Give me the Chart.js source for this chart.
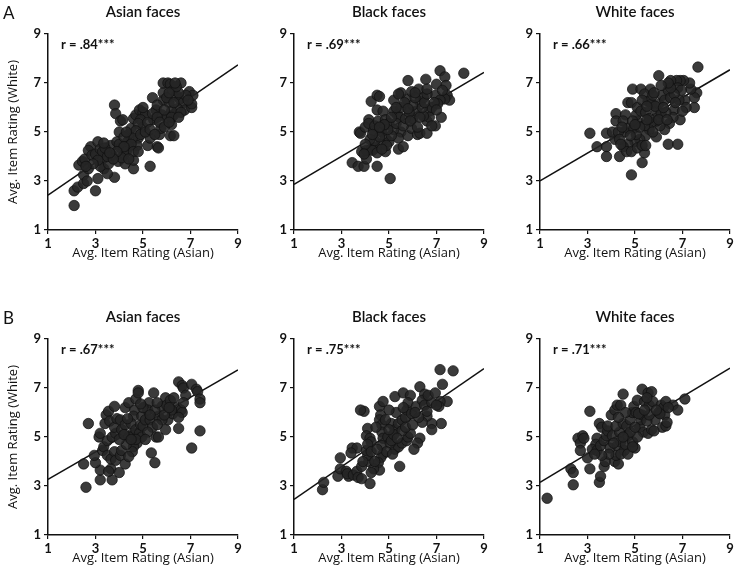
<!DOCTYPE html>
<html>
<head>
<meta charset="utf-8">
<script src="https://cdn.jsdelivr.net/npm/chart.js@4"></script>
<style>
  html, body { margin: 0; padding: 0; background: #fff; }
  body { width: 737px; height: 573px; position: relative; overflow: hidden; font-family: Lato, sans-serif; }
  canvas { position: absolute; }
  .letter { position: absolute; left: 3px; font-size: 17px; color: #111; z-index: 2; }
</style>
</head>
<body>
<div class="letter" style="top:2px">A</div>
<div class="letter" style="top:307px">B</div>
<canvas id="a1" width="246" height="264" style="left:0;top:0"></canvas>
<canvas id="a2" width="246" height="264" style="left:246px;top:0"></canvas>
<canvas id="a3" width="246" height="264" style="left:492px;top:0"></canvas>
<canvas id="b1" width="246" height="264" style="left:0;top:305px"></canvas>
<canvas id="b2" width="246" height="264" style="left:246px;top:305px"></canvas>
<canvas id="b3" width="246" height="264" style="left:492px;top:305px"></canvas>
<script>
// ---- data: [Asian rating, White rating] per item ----

const faceTitles = ['Asian faces', 'Black faces', 'White faces'];
const tickValues = [1, 3, 5, 7, 9];
const rLabels = ['.84', '.69', '.66', '.67', '.75', '.71'];

// regression lines: rating at x = 1 and x = 9
const fitA = [[2.42, 7.74], [2.86, 7.43], [3.01, 7.54]];
const fitB = [[3.27, 7.74], [2.45, 7.79], [3.15, 7.81]];

const asianA = [[2.1,2.0],[2.1,2.6],[2.25,2.75],[2.5,2.9],[2.5,3.25],[2.65,3.0],[3.0,2.6],[3.1,3.1],[3.8,3.15],[2.3,3.65],
  [2.45,3.8],[2.55,3.9],[2.7,3.5],[2.8,4.4],[2.7,4.25],[3.1,4.6],[2.85,4.05],[3.0,4.1],[3.2,4.3],[3.3,3.9],
  [3.35,3.5],[3.5,3.3],[3.2,3.6],[3.55,3.7],[3.7,4.05],[3.65,4.45],[3.45,4.2],[3.3,4.2],[3.5,4.0],[3.8,6.1],
  [3.85,5.75],[4.05,5.45],[4.15,5.5],[4.0,5.0],[3.9,4.6],[4.05,4.35],[4.2,4.05],[3.95,3.8],[4.25,3.7],[4.6,3.5],
  [4.6,3.85],[4.35,4.6],[4.4,4.9],[4.5,5.15],[4.6,5.55],[4.7,5.7],[4.85,5.9],[5.0,5.8],[4.8,4.75],[4.75,4.45],
  [5.1,5.7],[5.2,4.45],[5.3,3.6],[5.3,4.75],[5.4,6.4],[5.55,5.9],[5.6,4.4],[5.65,4.35],[5.45,5.5],[5.7,4.9],
  [5.75,5.15],[5.8,5.7],[5.85,6.3],[5.85,6.6],[5.85,7.0],[6.05,7.0],[6.15,6.95],[6.2,5.3],[6.15,4.85],[6.3,4.85],
  [6.4,6.5],[6.6,7.0],[6.25,6.7],[6.55,6.35],[6.7,6.2],[6.75,5.9],[6.95,6.65],[7.05,6.0],[7.05,6.15],[7.1,6.5],
  [6.8,6.5],[6.3,5.7],[6.45,5.95],[6.1,6.2],[6.2,5.85],[6.0,5.6],[6.2,5.6],[4.9,5.5],[5.0,5.2],[4.8,5.35],
  [4.7,5.05],[4.55,4.75],[4.4,4.4],[4.3,4.2],[4.1,3.95],[3.4,4.35],[3.35,4.55],[4.0,4.5],[4.2,4.8],[4.3,5.0],
  [4.5,4.5],[4.6,4.2],[4.9,4.9],[5.1,5.0],[5.2,5.4],[5.3,5.1],[5.4,5.75],[5.6,5.6],[5.6,6.1],[5.7,5.4],
  [5.9,5.9],[6.0,6.4],[6.3,6.2],[6.5,6.6],[6.6,5.8],[6.9,6.3],[5.0,6.0],[4.2,4.4],[3.9,4.2],[3.75,3.9],
  [3.6,4.15],[3.1,3.85],[2.9,3.7],[2.6,3.6],[4.4,3.9],[4.8,4.2],[5.5,4.9],[5.9,5.2],[6.1,5.4],[6.5,5.6],
  [6.4,6.85],[6.35,7.0],[6.1,6.6]];

const blackA = [[3.45,3.75],[3.7,3.6],[3.95,3.6],[4.05,3.9],[4.5,3.6],[5.05,3.1],[3.85,4.2],[4.05,4.25],[4.25,4.3],[3.75,5.0],
  [3.8,4.95],[4.25,6.25],[4.5,6.5],[4.6,6.45],[4.15,5.5],[4.5,5.9],[4.75,5.85],[4.0,5.2],[4.15,5.35],[4.35,5.05],
  [4.4,5.25],[4.55,5.45],[4.85,5.5],[5.0,5.35],[4.7,5.0],[4.85,4.75],[5.0,4.6],[4.65,4.5],[4.45,4.35],[4.3,4.25],
  [4.85,4.2],[4.4,4.65],[4.9,4.45],[5.2,5.85],[5.35,5.7],[5.45,5.6],[5.5,6.0],[5.75,6.35],[5.8,7.1],[5.5,6.6],
  [5.95,6.65],[5.2,6.3],[5.5,5.0],[5.4,4.75],[5.4,4.3],[5.6,4.4],[5.8,4.85],[5.95,5.15],[6.0,5.55],[6.15,5.85],
  [6.2,4.9],[6.3,4.95],[6.25,6.75],[6.3,6.25],[6.45,6.4],[6.6,5.45],[6.7,5.85],[6.6,4.95],[6.55,7.15],[6.8,6.0],
  [6.95,6.5],[7.0,6.95],[7.15,7.5],[7.35,7.25],[7.4,6.9],[7.45,6.5],[7.55,6.3],[7.35,6.35],[7.15,6.3],[7.05,6.15],
  [7.2,5.6],[6.95,5.25],[8.15,7.4],[6.7,5.6],[6.8,5.25],[6.45,5.65],[4.6,4.8],[4.2,4.7],[4.5,4.15],[5.2,5.1],
  [5.3,5.35],[5.6,5.25],[5.7,5.55],[5.85,5.8],[6.0,6.1],[6.1,6.4],[6.3,5.6],[6.4,6.0],[6.5,6.2],[6.6,6.55],
  [5.1,4.85],[4.95,5.1],[5.65,6.2],[5.9,5.45],[6.2,5.2],[6.9,6.2],[7.0,5.9],[5.3,6.0],[5.1,5.6],[4.8,5.3],
  [4.3,4.9],[4.0,4.5],[4.6,5.2],[6.1,6.6],[5.4,6.55],[6.6,6.75],[7.25,6.7],[4.7,4.3],[3.95,4.1],[5.8,5.95]];

const whiteA = [[3.1,4.95],[3.4,4.4],[3.8,4.95],[3.8,4.4],[3.8,4.0],[4.35,4.0],[4.2,5.75],[4.2,5.45],[4.15,4.7],[4.05,5.0],
  [4.85,3.25],[5.3,3.75],[5.4,4.15],[5.9,4.8],[6.4,4.5],[6.8,4.5],[6.9,5.5],[4.9,6.75],[5.25,6.75],[5.65,6.75],
  [6.0,7.3],[7.65,7.65],[7.5,6.0],[7.6,6.6],[7.5,6.4],[7.35,6.75],[7.3,7.0],[7.05,7.1],[6.9,7.1],[6.75,7.1],
  [6.5,7.1],[4.7,6.2],[4.85,6.2],[4.6,5.7],[4.5,5.45],[4.55,5.0],[4.7,5.15],[4.95,5.15],[5.1,5.45],[5.05,5.7],
  [5.1,6.0],[5.25,5.85],[5.45,5.8],[5.4,6.55],[5.55,6.25],[5.7,6.15],[5.75,6.5],[5.9,5.85],[6.0,6.15],[6.1,5.75],
  [6.15,6.5],[6.25,6.3],[6.4,6.7],[6.5,6.4],[6.65,5.9],[6.6,5.6],[6.45,5.35],[6.25,5.1],[6.05,5.25],[5.9,5.45],
  [5.7,5.4],[5.6,5.1],[5.4,5.25],[5.45,4.85],[5.2,4.7],[5.0,4.6],[4.7,4.5],[4.5,4.4],[4.65,4.2],[4.85,4.2],
  [5.1,4.35],[5.3,4.45],[5.45,4.45],[5.05,4.9],[4.9,5.45],[4.3,5.0],[4.35,4.7],[4.4,4.5],[6.8,6.8],[6.95,6.7],
  [7.1,6.3],[7.15,6.0],[7.0,5.85],[6.85,6.3],[6.65,6.55],[6.5,6.8],[6.4,7.0],[5.3,6.3],[5.6,5.55],[5.85,6.05],
  [6.3,5.8],[6.0,5.5],[5.2,5.2],[4.8,4.85],[5.75,5.0],[6.2,6.0],[6.7,6.2],[5.5,6.05],[6.35,5.5],[4.45,5.2],
  [5.0,5.3],[5.8,6.6],[6.1,6.9],[5.5,5.5]];

const asianB = [[2.6,2.95],[2.5,3.9],[2.7,5.55],[3.2,3.25],[3.2,3.65],[3.7,3.25],[3.65,3.7],[3.55,3.6],[4.0,3.55],[3.0,3.95],
  [2.95,4.25],[3.15,5.0],[3.2,5.15],[3.4,5.55],[3.45,5.9],[3.55,6.05],[3.8,6.25],[3.6,5.65],[3.3,4.45],[3.35,4.6],
  [3.5,4.25],[3.65,4.1],[3.8,4.4],[3.85,4.05],[4.05,4.25],[4.1,4.45],[4.25,3.9],[3.5,4.85],[3.7,5.0],[3.85,5.15],
  [3.8,5.4],[3.9,5.75],[4.05,5.7],[4.1,5.3],[4.25,5.5],[4.25,6.2],[4.4,6.4],[4.7,6.55],[4.8,6.9],[4.8,6.8],
  [4.65,6.1],[4.6,5.85],[4.5,5.55],[4.55,5.15],[4.7,5.3],[4.85,5.15],[4.9,5.5],[4.95,5.85],[5.0,5.45],[5.1,5.7],
  [4.95,5.0],[4.75,4.75],[4.6,4.6],[4.55,4.4],[4.4,4.2],[4.7,4.9],[5.35,4.35],[5.5,3.95],[5.45,6.8],[5.25,6.4],
  [5.2,6.1],[5.3,5.7],[5.4,5.4],[5.55,5.0],[5.65,5.0],[5.65,5.85],[5.8,6.25],[5.95,6.6],[6.0,6.3],[6.15,6.5],
  [6.3,6.6],[5.95,5.3],[6.05,5.7],[6.25,5.95],[6.45,6.2],[6.6,6.1],[6.65,6.0],[6.5,5.8],[6.5,5.35],[6.5,7.25],
  [6.65,7.1],[6.7,7.0],[7.05,7.15],[7.25,6.95],[7.3,6.85],[7.4,6.55],[7.4,6.4],[7.4,5.25],[7.05,4.55],[6.8,6.7],
  [6.7,6.4],[5.8,5.7],[5.6,5.5],[5.5,6.1],[5.2,5.2],[5.1,4.9],[4.4,5.0],[4.3,4.7],[4.0,4.9],[4.2,5.1],
  [5.0,6.2],[5.6,6.4],[6.2,6.1],[5.9,5.9],[6.1,6.2],[4.5,4.9],[4.35,5.75],[5.3,5.9],[4.9,6.35]];

const blackB = [[2.2,2.85],[2.25,3.15],[2.85,3.4],[2.95,4.15],[2.95,3.7],[3.2,3.6],[3.3,3.4],[3.25,3.5],[3.45,4.55],[3.65,4.55],
  [3.4,4.35],[3.5,3.45],[3.65,3.6],[3.7,3.35],[3.85,3.3],[4.2,3.1],[3.85,3.8],[4.15,4.0],[4.1,4.25],[4.05,4.45],
  [3.95,6.05],[3.8,6.1],[4.6,6.25],[4.75,6.45],[4.65,5.9],[4.6,5.7],[4.7,5.5],[4.7,5.2],[4.75,4.95],[4.7,4.65],
  [4.75,4.3],[4.65,4.15],[4.55,3.95],[4.6,3.65],[4.35,3.7],[4.25,3.55],[4.1,5.35],[4.05,5.05],[4.2,4.95],[4.25,4.8],
  [4.1,4.7],[4.25,4.4],[5.25,6.65],[5.6,6.8],[5.9,6.7],[6.3,7.05],[6.5,6.75],[7.15,7.75],[7.7,7.7],[7.25,7.15],
  [7.45,6.45],[7.15,6.45],[7.1,6.25],[7.2,5.55],[6.8,5.55],[6.8,5.3],[6.6,5.85],[6.3,4.95],[6.2,4.75],[6.05,4.5],
  [5.45,3.8],[5.25,4.5],[5.4,4.6],[5.55,4.75],[5.75,4.85],[5.8,5.0],[5.9,5.15],[5.1,5.55],[5.25,5.3],[5.4,5.55],
  [5.55,5.7],[5.7,5.8],[5.75,6.1],[5.95,5.95],[5.8,6.4],[6.15,6.25],[6.4,6.5],[6.5,6.3],[6.8,6.4],[6.65,6.7],
  [6.95,6.8],[4.95,5.0],[5.05,4.75],[5.1,4.85],[5.2,5.1],[6.4,5.6],[6.25,5.8],[5.55,5.25],[5.7,5.4],[4.9,4.4],
  [4.85,5.7],[5.3,6.0],[5.0,5.3],[5.15,4.3],[5.0,6.1],[6.0,5.5],[6.1,6.0],[5.6,6.2],[4.45,5.4],[4.5,4.5],
  [5.35,4.95],[6.6,6.05],[7.0,6.3],[4.4,4.0],[3.9,4.0]];

const whiteB = [[1.3,2.5],[2.4,3.05],[2.3,3.7],[2.4,3.55],[2.6,4.95],[2.7,4.75],[2.8,5.05],[2.85,4.95],[2.7,4.45],[3.0,4.15],
  [3.1,3.7],[3.1,6.05],[3.5,3.15],[3.55,3.4],[3.7,3.8],[3.75,4.0],[3.5,5.55],[3.6,5.4],[3.4,4.95],[3.35,4.7],
  [3.2,4.5],[3.4,4.45],[3.55,4.65],[3.7,4.85],[3.8,5.05],[3.85,5.25],[3.85,5.45],[4.15,4.0],[4.3,3.9],[4.0,5.9],
  [4.15,6.1],[4.25,6.3],[4.4,6.3],[4.5,6.75],[4.2,4.25],[3.95,4.55],[4.25,4.65],[4.4,4.8],[4.55,4.45],[4.6,4.7],
  [4.7,5.05],[4.05,5.05],[4.35,5.2],[4.2,5.45],[4.5,5.55],[4.65,5.45],[4.8,5.7],[4.9,6.0],[5.0,4.55],[4.95,6.25],
  [5.05,6.0],[5.1,6.5],[5.2,5.4],[5.25,5.7],[5.3,6.95],[5.55,6.8],[5.7,6.85],[5.4,6.45],[5.6,6.3],[5.75,6.45],
  [5.35,5.2],[5.55,5.15],[5.7,5.3],[5.85,5.7],[6.0,6.0],[6.1,6.3],[6.2,6.2],[6.3,6.45],[6.25,5.9],[6.05,5.95],
  [6.15,5.4],[6.3,5.45],[6.35,5.6],[5.8,5.25],[6.6,6.3],[6.8,6.1],[7.1,6.55],[4.4,4.3],[4.7,4.3],[4.9,4.8],
  [5.1,5.0],[4.8,5.2],[5.3,5.9],[5.5,5.65],[5.6,5.9],[5.15,5.95],[4.6,6.0],[4.3,5.8],[3.9,4.3],[3.6,4.25],
  [5.4,6.1],[5.0,5.4],[4.1,4.75],[3.3,4.3],[4.5,5.0],[5.5,6.6],[5.9,6.1],[4.9,4.6],[6.4,6.2]];

// ---- drawing ----

Chart.defaults.font.family = 'Lato, "Open Sans", sans-serif';
Chart.defaults.color = '#111';

// panel title centred over the plot area, plus "r = .84***" in its top-left corner
const panelText = {
  id: 'panelText',
  afterDatasetsDraw(chart, args, opts) {
    const { ctx, chartArea } = chart;
    ctx.save();
    ctx.fillStyle = '#111';
    ctx.textBaseline = 'middle';
    ctx.font = '600 15px Lato, sans-serif';
    ctx.textAlign = 'center';
    ctx.fillText(opts.title, (chartArea.left + chartArea.right) / 2, 12);
    ctx.font = 'bold 13px Lato, sans-serif';
    ctx.textAlign = 'left';
    ctx.fillText('r = ' + opts.r + '***', chartArea.left + 13, chartArea.top + 11);
    ctx.restore();
  }
};

function axis(title, horizontal, showTitle) {
  return {
    type: 'linear',
    min: 1, max: 9,
    afterBuildTicks: s => { s.ticks = tickValues.map(v => ({ value: v })); },
    afterFit: s => { if (horizontal) s.height = 34; else s.width = 48; },
    ticks: { font: { size: 13, weight: 'bold' }, color: '#111', padding: horizontal ? 2 : 3 },
    grid: { drawOnChartArea: false, drawTicks: true, tickLength: 4, color: '#111', lineWidth: 1.2 },
    border: { display: true, color: '#111', width: 1.5 },
    title: {
      display: showTitle, text: title, color: '#111',
      font: { family: '"Open Sans", sans-serif', size: 13 },
      padding: horizontal ? { top: 0, bottom: 3 } : { top: 5, bottom: 0 }
    }
  };
}

function panel(id, points, fit, title, r, showY) {
  new Chart(document.getElementById(id), {
    type: 'scatter',
    data: {
      datasets: [
        {
          data: points.map(p => ({ x: p[0], y: p[1] })),
          pointRadius: 5.2,
          backgroundColor: 'rgba(38,38,38,0.9)',
          borderColor: 'rgba(15,15,15,0.9)',
          borderWidth: 0.8
        },
        {
          data: [{ x: 1, y: fit[0] }, { x: 9, y: fit[1] }],
          showLine: true,
          pointRadius: 0,
          borderColor: '#111',
          borderWidth: 1.5
        }
      ]
    },
    options: {
      responsive: false,
      animation: false,
      events: [],
      layout: { padding: { left: 0, right: 8, top: 34, bottom: 0 } },
      plugins: {
        legend: { display: false },
        tooltip: { enabled: false },
        panelText: { title: title, r: r }
      },
      scales: {
        x: axis('Avg. Item Rating (Asian)', true, true),
        y: axis('Avg. Item Rating (White)', false, showY)
      }
    },
    plugins: [panelText]
  });
}

panel('a1', asianA, fitA[0], faceTitles[0], rLabels[0], true);
panel('a2', blackA, fitA[1], faceTitles[1], rLabels[1], false);
panel('a3', whiteA, fitA[2], faceTitles[2], rLabels[2], false);
panel('b1', asianB, fitB[0], faceTitles[0], rLabels[3], true);
panel('b2', blackB, fitB[1], faceTitles[1], rLabels[4], false);
panel('b3', whiteB, fitB[2], faceTitles[2], rLabels[5], false);
</script>
</body>
</html>
